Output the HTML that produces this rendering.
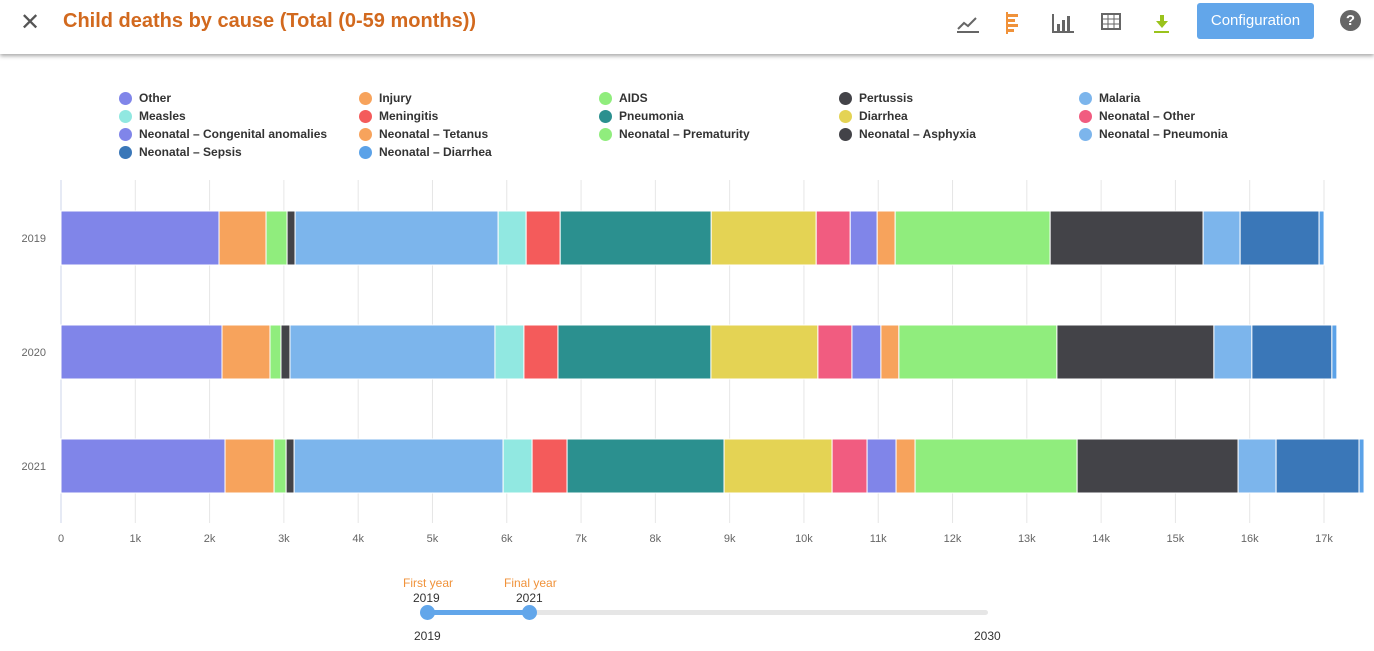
<!DOCTYPE html>
<html><head><meta charset="utf-8"><style>
body{margin:0;width:1374px;height:651px;background:#fff;font-family:"Liberation Sans",sans-serif;overflow:hidden;position:relative}
#hdr{position:absolute;left:0;top:0;width:1374px;height:54px;background:#fff;box-shadow:0 2px 4px rgba(0,0,0,.35)}
.leg{position:absolute;font-size:12px;font-weight:bold;color:#333}
.leg i{position:absolute;left:-20px;top:1px;width:13px;height:13px;border-radius:50%}
</style></head><body>
<div id="hdr">
<div style="position:absolute;left:20px;top:8px;font-size:24px;color:#555">✕</div>
<div style="position:absolute;left:63px;top:10px;font-size:20px;color:#d2691e;font-weight:bold">Child deaths by cause (Total (0-59 months))</div>
<svg style="position:absolute;left:955px;top:10px" width="240" height="26">
<g><path d="M2 22H24M3 19l6-6 4 3 8-8" stroke="#666" stroke-width="2" fill="none"/></g>
<g fill="#f0923a"><rect x="51" y="2" width="2" height="22"/><rect x="53" y="4" width="10" height="3"/><rect x="53" y="9" width="7" height="3"/><rect x="53" y="14" width="10" height="3"/><rect x="53" y="19" width="6" height="3"/></g>
<g fill="#666"><rect x="97" y="4" width="2" height="19"/><rect x="97" y="21" width="22" height="2"/><rect x="102" y="14" width="3" height="7"/><rect x="107" y="10" width="3" height="11"/><rect x="112" y="6" width="3" height="15"/></g>
<g><rect x="147" y="4" width="18" height="15" fill="none" stroke="#666" stroke-width="2"/><path d="M147 9H165M147 14H165M153 4V19M159 4V19" stroke="#666"/></g>
<g fill="#9ac31c"><path d="M205 5h4v6h4l-6 7-6-7h4z"/><rect x="199" y="21" width="15" height="2"/></g>
</svg>
<div style="position:absolute;left:1197px;top:3px;width:117px;height:36px;background:#62a6ea;border-radius:3px;color:#fff;font-size:15px;text-align:center;line-height:36px">Configuration</div>
<div style="position:absolute;left:1340px;top:10px;width:21px;height:21px;border-radius:50%;background:#666;color:#fff;font-weight:bold;font-size:15px;text-align:center;line-height:21px">?</div>
</div>
<div id="legend"></div>
<svg id="chart" width="1374" height="651" style="position:absolute;left:0;top:0;z-index:-1"></svg>
<div>
<div style="position:absolute;left:403px;top:576px;font-size:12px;color:#f0923a">First year</div>
<div style="position:absolute;left:504px;top:576px;font-size:12px;color:#f0923a">Final year</div>
<div style="position:absolute;left:413px;top:591px;font-size:12px;color:#333">2019</div>
<div style="position:absolute;left:516px;top:591px;font-size:12px;color:#333">2021</div>
<div style="position:absolute;left:428px;top:610px;width:560px;height:5px;background:#e6e6e6;border-radius:3px"></div>
<div style="position:absolute;left:428px;top:610px;width:102px;height:5px;background:#62a6ea"></div>
<div style="position:absolute;left:420px;top:605px;width:15px;height:15px;border-radius:50%;background:#62a6ea"></div>
<div style="position:absolute;left:522px;top:605px;width:15px;height:15px;border-radius:50%;background:#62a6ea"></div>
<div style="position:absolute;left:414px;top:629px;font-size:12px;color:#333">2019</div>
<div style="position:absolute;left:974px;top:629px;font-size:12px;color:#333">2030</div>
</div>
<script>
const categories=["2019","2020","2021"];
const causes=["Other","Injury","AIDS","Pertussis","Malaria","Measles","Meningitis","Pneumonia","Diarrhea","Neonatal – Other","Neonatal – Congenital anomalies","Neonatal – Tetanus","Neonatal – Prematurity","Neonatal – Asphyxia","Neonatal – Pneumonia","Neonatal – Sepsis","Neonatal – Diarrhea"];
const colors=["#8085e9","#f7a35c","#90ed7d","#434348","#7cb5ec","#91e8e1","#f45b5b","#2b908f","#e4d354","#f15c80","#8085e9","#f7a35c","#90ed7d","#434348","#7cb5ec","#3a77b8","#5ba2e8"];
const v2019=[2127,633,283,108,2733,377,458,2033,1413,458,363,242,2086,2059,498,1063,67];
const v2020=[2167,646,148,121,2759,390,458,2059,1440,458,390,242,2127,2113,511,1077,67];
const v2021=[2208,660,162,108,2813,390,471,2113,1454,471,390,256,2181,2167,511,1117,67];
const values=[v2019,v2020,v2021];
const ticks=[0,1000,2000,3000,4000,5000,6000,7000,8000,9000,10000,11000,12000,13000,14000,15000,16000,17000];
const tickLabels=["0","1k","2k","3k","4k","5k","6k","7k","8k","9k","10k","11k","12k","13k","14k","15k","16k","17k"];
const legendOrder=[0,1,2,3,4,5,6,7,8,9,10,11,12,13,14,15,16];
const NS="http://www.w3.org/2000/svg";
const svg=document.getElementById('chart');
const x=v=>61+v*(1324-61)/17000;
const yTop=i=>211+i*114;
function mk(t,a){const e=document.createElementNS(NS,t);for(const k in a)e.setAttribute(k,a[k]);svg.appendChild(e);return e;}
ticks.forEach((t,i)=>{
 const g=mk('line',{x1:x(t),x2:x(t),y1:180,y2:523,stroke:i==0?'#ccd6eb':'#e6e6e6'});
 
 
 const l=mk('text',{x:x(t),y:542,'text-anchor':'middle','font-size':11,fill:'#666','font-family':'Liberation Sans'});
 l.textContent=tickLabels[i];
 
 
});
categories.forEach((c,i)=>{
 const l=mk('text',{x:46,y:yTop(i)+31,'text-anchor':'end','font-size':11,fill:'#666','font-family':'Liberation Sans'});
 l.textContent=c;
 
 
 let acc=0;
 values[i].forEach((v,j)=>{
  const r=mk('rect',{x:x(acc),y:yTop(i),width:x(acc+v)-x(acc),height:54,fill:colors[j],stroke:'#fff','stroke-width':1});
  
  
  acc+=v;
 });
});
const leg=document.getElementById('legend');
legendOrder.forEach((k,n)=>{
 const d=document.createElement('div');
 d.className='leg';
 d.style.left=(139+(n%5)*240)+'px';
 d.style.top=(91+Math.floor(n/5)*18)+'px';
 d.innerHTML='<i style="background:'+colors[k]+'"></i>'+causes[k];
 
 
 leg.appendChild(d);
});
</script>
</body></html>
